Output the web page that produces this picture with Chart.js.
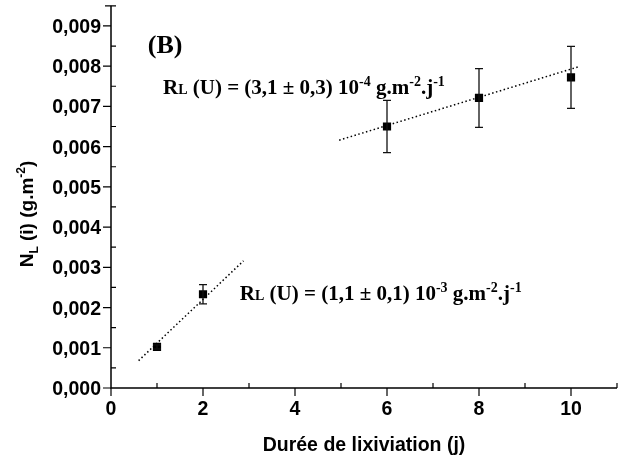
<!DOCTYPE html>
<html><head><meta charset="utf-8">
<script src="https://cdn.jsdelivr.net/npm/chart.js@4/dist/chart.umd.min.js"></script>
<style>html,body{margin:0;padding:0;background:#fff}#wrap{width:623px;height:463px}</style>
</head><body><div id="wrap"><canvas id="c" width="623" height="463"></canvas></div>
<script>
// Data
const days = [1, 2, 6, 8, 10];
const nl = [0.00102, 0.00233, 0.0065, 0.00721, 0.00772];
const errs = [0.00005, 0.00024, 0.00065, 0.00073, 0.00077];
const fitShortX = [0.6, 2.88];
const fitShortY = [0.00068, 0.00316];
const fitLongX = [4.96, 10.15];
const fitLongY = [0.00616, 0.00798];
const xTickLabels = ['0', '2', '4', '6', '8', '10'];
const yTickLabels = ['0,000','0,001','0,002','0,003','0,004','0,005','0,006','0,007','0,008','0,009'];
const xTitle = 'Durée de lixiviation (j)';

const SANS = '"Liberation Sans", Arial, sans-serif';
const SERIF = '"Liberation Serif", "Times New Roman", serif';

function drawRich(ctx, x, y, parts) {
  let cx = x;
  for (const p of parts) {
    ctx.font = 'bold ' + p.s + 'px ' + (p.f || SERIF);
    ctx.fillText(p.t, cx, y + (p.dy || 0));
    cx += ctx.measureText(p.t).width;
  }
}

const overlay = {
  id: 'overlay',
  afterDatasetsDraw(chart) {
    const ctx = chart.ctx, xs = chart.scales.x, ys = chart.scales.y;
    ctx.save();
    ctx.lineWidth = 1.3;
    ctx.strokeStyle = '#111';
    days.forEach((d, i) => {
      const px = xs.getPixelForValue(d);
      const t = ys.getPixelForValue(nl[i] + errs[i]);
      const b = ys.getPixelForValue(nl[i] - errs[i]);
      ctx.beginPath();
      ctx.moveTo(px, t); ctx.lineTo(px, b);
      ctx.moveTo(px - 4, t); ctx.lineTo(px + 4, t);
      ctx.moveTo(px - 4, b); ctx.lineTo(px + 4, b);
      ctx.stroke();
    });
    ctx.restore();
  },
  afterDraw(chart) {
    const ctx = chart.ctx, xs = chart.scales.x, ys = chart.scales.y;
    const ca = chart.chartArea;
    ctx.save();
    ctx.strokeStyle = '#000';
    ctx.lineWidth = 1.5;
    ctx.beginPath();
    ctx.moveTo(ca.left, ca.top); ctx.lineTo(ca.left, ca.bottom); ctx.lineTo(ca.right, ca.bottom);
    ctx.stroke();
    ctx.lineWidth = 1.2;
    ctx.beginPath();
    for (let v = 0; v <= 11; v++) {
      const px = xs.getPixelForValue(v);
      if (v % 2 === 0) { ctx.moveTo(px, ca.bottom); ctx.lineTo(px, ca.bottom + 8); }
      else { ctx.moveTo(px, ca.bottom); ctx.lineTo(px, ca.bottom - 5); }
    }
    for (let k = 0; k <= 19; k++) {
      const py = ys.getPixelForValue(k * 0.0005);
      if (k % 2 === 0) { ctx.moveTo(ca.left, py); ctx.lineTo(ca.left - 8, py); }
      else { ctx.moveTo(ca.left, py); ctx.lineTo(ca.left + 5, py); }
    }
    ctx.moveTo(ca.left, ca.top); ctx.lineTo(ca.left - 6, ca.top);
    ctx.stroke();

    ctx.fillStyle = '#000';
    ctx.font = 'bold 19.5px ' + SANS;
    ctx.textAlign = 'center'; ctx.textBaseline = 'alphabetic';
    xTickLabels.forEach((l, i) => ctx.fillText(l, xs.getPixelForValue(i * 2), ca.bottom + 27));
    ctx.textAlign = 'right';
    yTickLabels.forEach((l, i) => ctx.fillText(l, ca.left - 10, ys.getPixelForValue(i * 0.001) + 7));
    ctx.textAlign = 'center';
    ctx.font = 'bold 19.5px ' + SANS;
    ctx.fillText(xTitle, (ca.left + ca.right) / 2, 451);
    ctx.save();
    ctx.translate(33, 214);
    ctx.rotate(-Math.PI / 2);
    ctx.textAlign = 'left';
    const yParts = [
      {t: 'N', s: 19, f: SANS}, {t: 'L', s: 12, f: SANS, dy: 5},
      {t: ' (i) (g.m', s: 19, f: SANS}, {t: '-2', s: 12, f: SANS, dy: -8},
      {t: ')', s: 19, f: SANS}
    ];
    let w = 0;
    for (const p of yParts) { ctx.font = 'bold ' + p.s + 'px ' + p.f; w += ctx.measureText(p.t).width; }
    drawRich(ctx, -w / 2, 0, yParts);
    ctx.restore();
    ctx.textAlign = 'left';
    drawRich(ctx, xs.getPixelForValue(0.8), ys.getPixelForValue(0.00832), [{t: '(B)', s: 26}]);
    const eq = (a, b, e) => [
      {t: 'R', s: 21}, {t: 'L', s: 14}, {t: ' (U) = (' + a + ' \u00b1 ' + b + ') 10', s: 21},
      {t: e, s: 14, dy: -8}, {t: ' g.m', s: 21}, {t: '-2', s: 14, dy: -8},
      {t: '.j', s: 21}, {t: '-1', s: 14, dy: -8}
    ];
    drawRich(ctx, xs.getPixelForValue(1.13), ys.getPixelForValue(0.00732), eq('3,1', '0,3', '-4'));
    drawRich(ctx, xs.getPixelForValue(2.8), ys.getPixelForValue(0.00219), eq('1,1', '0,1', '-3'));
    ctx.restore();
  }
};

new Chart(document.getElementById('c'), {
  type: 'scatter',
  data: {
    datasets: [
      { data: days.map((d, i) => ({x: d, y: nl[i]})), pointStyle: 'rect', pointRadius: 5.8,
        backgroundColor: '#000', borderColor: '#000', borderWidth: 0, showLine: false, order: 0 },
      { data: fitShortX.map((x, i) => ({x, y: fitShortY[i]})), showLine: true, pointRadius: 0,
        borderColor: '#000', borderWidth: 1.5, borderDash: [1.5, 2.5], order: 1 },
      { data: fitLongX.map((x, i) => ({x, y: fitLongY[i]})), showLine: true, pointRadius: 0,
        borderColor: '#000', borderWidth: 1.5, borderDash: [1.5, 2.5], order: 1 }
    ]
  },
  options: {
    responsive: false, animation: false, devicePixelRatio: 1,
    layout: { padding: { top: 5, right: 6, left: 0, bottom: 0 } },
    plugins: { legend: { display: false }, tooltip: { enabled: false } },
    scales: {
      x: { type: 'linear', min: 0, max: 11,
        grid: { display: false }, border: { display: false },
        ticks: { display: false },
        afterFit: s => { s.height = 75; } },
      y: { type: 'linear', min: 0, max: 0.0095,
        grid: { display: false }, border: { display: false },
        ticks: { display: false },
        afterFit: s => { s.width = 111; } }
    }
  },
  plugins: [overlay]
});
</script>
</body></html>
